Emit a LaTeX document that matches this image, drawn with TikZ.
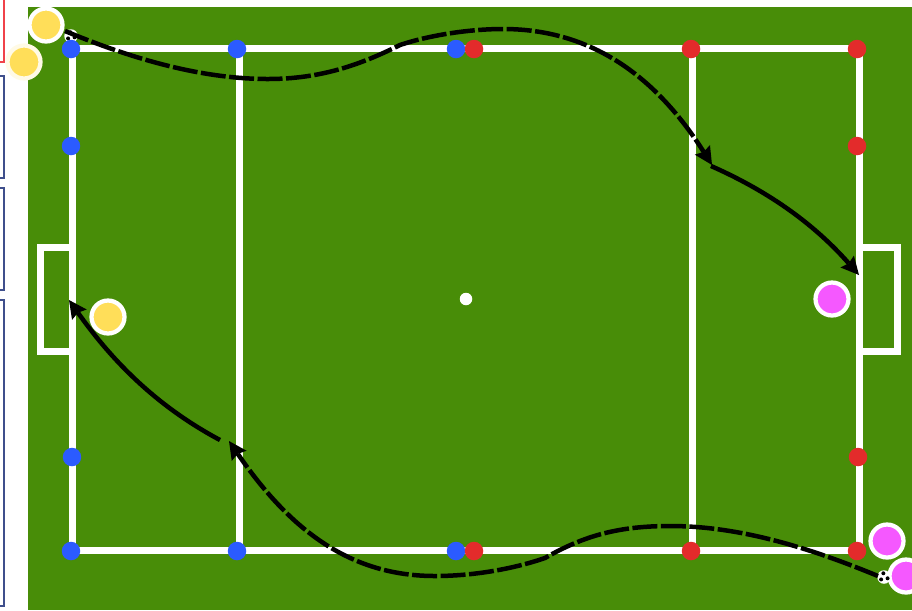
\documentclass[tikz,border=0pt]{standalone}
\usepackage{amsmath,amssymb}
\usetikzlibrary{arrows.meta}
\definecolor{pitch}{HTML}{488D08}
\definecolor{teamA}{HTML}{2B5BFF}
\definecolor{teamB}{HTML}{E32B2B}
\definecolor{yellowp}{HTML}{FFDE59}
\definecolor{magentap}{HTML}{F558FF}
\definecolor{panel}{HTML}{3F4F8C}
\definecolor{panelred}{HTML}{F0424A}
\tikzset{
  mark dot/.style={circle,inner sep=0pt,minimum size=0.37cm},
  player/.style={circle,draw=white,line width=0.085cm,inner sep=0pt,minimum size=0.66cm},
  ball/.style={circle,fill=white,inner sep=0pt,minimum size=0.27cm},
  run/.style={line width=0.09cm,black},
  runarrow/.style={run,-{Stealth[length=0.36cm,width=0.36cm,inset=0.05cm,line width=0pt]}}
}
\begin{document}
\begin{tikzpicture}[x=0.02cm,y=-0.02cm]
\useasboundingbox (0,0) rectangle (912,610);
% Side panels
\draw[panelred,line width=0.04cm] (4,-5) -- (4,62) -- (-5,62);
\foreach \t/\b in {76/178,188/290,300/606} {
  \draw[panel,line width=0.04cm] (-5,\t) -- (4,\t) -- (4,\b) -- (-5,\b);
}
% Pitch
\fill[pitch] (28,7) rectangle (912,610);
\begin{scope}[draw=white,line width=0.14cm]
\draw (72.5,48) rectangle (859,550);
\draw (239,48) -- (239,550);
\draw (692.5,48) -- (692.5,550);
\draw (72,247) -- (40,247) -- (40,351) -- (72,351);
\draw (859,247) -- (897,247) -- (897,351) -- (859,351);
\end{scope}
\node[circle,fill=white,inner sep=0pt,minimum size=0.25cm] (centre) at (466,299) {};
% Balls
\node[ball] (ballA) at (71,36) {};
\foreach \a in {20,140,260} {
  \fill[black] (ballA)++(\a:3.8) circle (0.04cm);
}
% Cones
\foreach \n/\x/\y in {a1/71/49,a2/237/49,a3/456/49,a4/71/146,a5/72/457,a6/71/551,a7/237/551,a8/456/551} {
  \node[mark dot,fill=teamA] (\n) at (\x,\y) {};
}
\foreach \n/\x/\y in {b1/474/49,b2/691/49,b3/857/49,b4/857/146,b5/858/457,b6/691/551,b7/474/551,b8/857/551} {
  \node[mark dot,fill=teamB] (\n) at (\x,\y) {};
}
% Players
\node[player,fill=yellowp] (y1) at (46,25) {};
\node[player,fill=yellowp,draw=yellowp!15] (y2) at (24,62) {};
\node[player,fill=yellowp] (y3) at (108,317) {};
\node[player,fill=magentap] (m1) at (832,299) {};
\node[player,fill=magentap] (m2) at (887,541) {};
\node[player,fill=magentap] (m3) at (906,576) {};
\node[ball] (ballB) at (884,577) {};
\foreach \a in {20,140,260} {
  \fill[black] (ballB)++(\a:3.8) circle (0.04cm);
}
% Runs
\coordinate (topstart) at (65,31);
\coordinate (topend) at (712,165);
\coordinate (topshot) at (711,166);
\coordinate (goalR) at (859,275);
\coordinate (botstart) at (878,576);
\coordinate (botend) at (229,441);
\coordinate (botshot) at (220,440);
\coordinate (goalL) at (69,300);
\draw[runarrow,dash pattern=on 0.5cm off 0.07cm] (topstart) .. controls (130,58) and (200,79) .. (268,79)
  .. controls (320,79) and (360,65) .. (400,45) .. controls (430,35) and (470,29) .. (503,29)
  .. controls (590,29) and (655,75) .. (topend);
\draw[runarrow] (topshot) .. controls (770,192) and (815,225) .. (goalR);
\draw[runarrow,dash pattern=on 0.5cm off 0.07cm] (botstart) .. controls (810,548) and (740,526) .. (670,526)
  .. controls (620,526) and (585,535) .. (545,558) .. controls (510,570) and (470,576) .. (435,576)
  .. controls (350,576) and (290,530) .. (botend);
\draw[runarrow] (botshot) .. controls (160,408) and (115,365) .. (goalL);
\end{tikzpicture}
\end{document}
